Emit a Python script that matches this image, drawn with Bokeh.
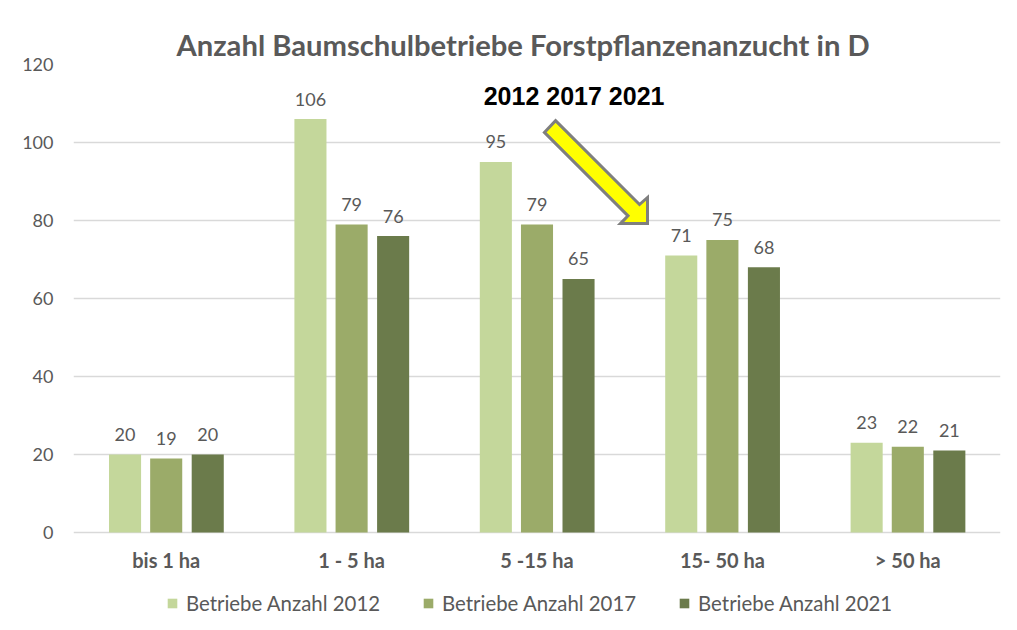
from bokeh.plotting import figure
from bokeh.models import Range1d, FixedTicker, ColumnDataSource, Legend, LegendItem, Label
from bokeh.core.properties import value
from bokeh.embed import file_html
from bokeh.resources import INLINE

categories = ["bis 1 ha", "1 - 5 ha", "5 -15 ha", "15- 50 ha", "> 50 ha"]
series_names = ["Betriebe Anzahl 2012", "Betriebe Anzahl 2017", "Betriebe Anzahl 2021"]
values_2012 = [20, 106, 95, 71, 23]
values_2017 = [19, 79, 79, 75, 22]
values_2021 = [20, 76, 65, 68, 21]
y_ticks = [0, 20, 40, 60, 80, 100, 120]
title_text = "Anzahl Baumschulbetriebe Forstpflanzenanzucht in D"
annotation_text = "2012 2017 2021"

colors = ["#c4d79b", "#9bab69", "#6b7b4b"]
offsets = [-0.222, 0.0, 0.224]
bar_w = 0.173
FONT = "Lato"
GRAY = "#595959"

# frame extends below the value axis to hold category labels and legend
p = figure(frame_width=927, frame_height=566, output_backend="svg", toolbar_location=None,
           x_range=Range1d(0, 5), y_range=Range1d(-25.13, 120),
           min_border_left=73, min_border_right=16, min_border_top=64, min_border_bottom=0)
p.title.text = title_text
p.title.align = "left"
p.title.text_font = FONT
p.title.text_font_size = "29.2px"
p.title.text_color = GRAY
p.title.text_font_style = "bold"
p.title.offset = 103
p.title.standoff = 6
p.outline_line_color = None
p.background_fill_color = "white"
p.border_fill_color = "white"

centers = [i + 0.5 for i in range(len(categories))]
p.xaxis.visible = False

p.yaxis.ticker = FixedTicker(ticks=y_ticks)
p.yaxis.major_label_text_font = FONT
p.yaxis.major_label_text_font_size = "18px"
p.yaxis.major_label_text_color = GRAY
p.yaxis.major_label_standoff = 14
p.yaxis.axis_line_color = None
p.yaxis.major_tick_line_color = None
p.yaxis.minor_tick_line_color = None

p.xgrid.grid_line_color = None
p.ygrid.grid_line_color = "#d9d9d9"
p.ygrid.grid_line_width = 1.5

# category labels under the bars
cat_src = ColumnDataSource(dict(x=centers, y=[0] * len(categories), lab=categories))
p.text(x="x", y="y", text="lab", source=cat_src, text_align="center", text_baseline="middle",
       y_offset=28, text_font=value(FONT), text_font_style="bold", text_font_size="20px",
       text_color=GRAY)

items = []
for vals, name, col, off in zip([values_2012, values_2017, values_2021], series_names, colors, offsets):
    src = ColumnDataSource(dict(x=[c + off for c in centers], top=vals, lab=[str(v) for v in vals]))
    r = p.vbar(x="x", top="top", width=bar_w, source=src, fill_color=col, line_color=None)
    p.text(x="x", y="top", text="lab", source=src, text_align="center", text_baseline="alphabetic",
           y_offset=-20, text_font=value(FONT), text_font_size="18px", text_color=GRAY)
    items.append(LegendItem(label=name, renderers=[r]))

legend = Legend(items=items, orientation="horizontal", location=(93, 15),
                label_text_font=FONT, label_text_font_size="20.4px", label_text_color=GRAY,
                glyph_width=12, glyph_height=12, spacing=42, label_standoff=8,
                border_line_color=None, background_fill_alpha=0, padding=4, margin=0)
p.add_layout(legend, "center")

# annotation arrow (data coordinates)
arrow_x = [2.600, 3.053, 3.096, 3.096, 2.950, 2.991, 2.540]
arrow_y = [105.6, 84.1, 85.9, 79.2, 79.2, 81.2, 102.6]
p.patch(arrow_x, arrow_y, fill_color="#ffff00", line_color="#7f7f7f", line_width=3, line_join="miter")

p.add_layout(Label(x=2.70, y=111.8, text=annotation_text, text_align="center", text_baseline="middle",
                   text_font="Liberation Sans", text_font_style="bold", text_font_size="25px",
                   text_color="black"))

open("out.html", "w").write(file_html(p, INLINE))
